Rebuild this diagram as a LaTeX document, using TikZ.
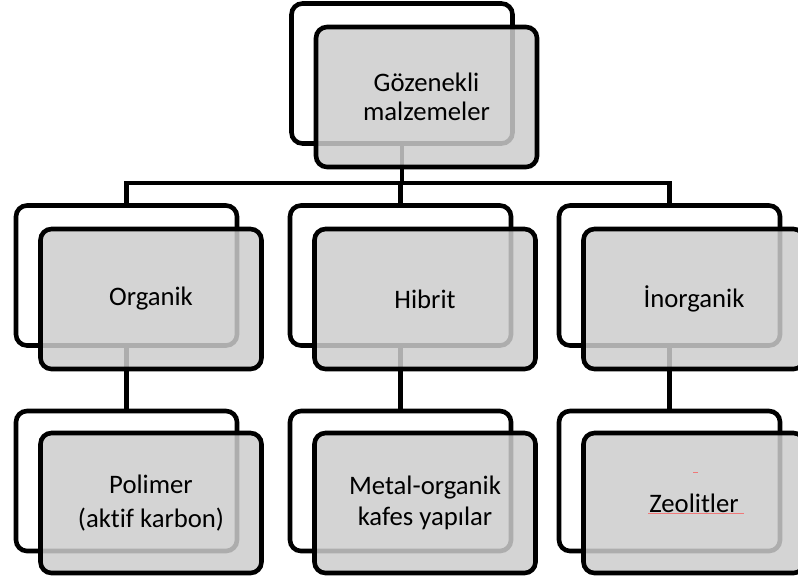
\documentclass[tikz,border=0pt]{standalone}
\usepackage{fontspec}
\setmainfont{Carlito}[Ligatures=NoCommon]
\definecolor{boxgray}{gray}{0.8}
\definecolor{spellred}{RGB}{240,120,120}
\begin{document}
\begin{tikzpicture}[x=1pt,y=-1pt,
  back/.style={draw=black, line width=4.6pt, rounded corners=11pt,
    minimum width=221pt, minimum height=140pt, inner sep=0pt, outer sep=0pt},
  front/.style={back, fill=boxgray, fill opacity=0.85, text opacity=1,
    align=center, font=\fontsize{26.7}{28.5}\selectfont},
  link/.style={line width=4.6pt}]
\useasboundingbox (0,0) rectangle (798,581);
\clip (0,0) rectangle (798,581);
% back boxes
\node[back] (topB) at (402,73.5) {};
\node[back] (orgB) at (126.5,275.5) {};
\node[back] (hibB) at (400.5,275.5) {};
\node[back] (inoB) at (669.5,275.5) {};
\node[back] (polB) at (126.5,481) {};
\node[back] (mofB) at (400.5,481) {};
\node[back] (zeoB) at (669.5,481) {};
% connectors
\coordinate (bus) at (0,183);
\draw[link] (topB.south) -- (topB.south |- bus);
\draw[link] (orgB.north) -- (orgB.north |- bus) -- (inoB.north |- bus) -- (inoB.north);
\draw[link] (hibB.north) -- (hibB.north |- bus);
\draw[link] (orgB.south) -- (polB.north);
\draw[link] (hibB.south) -- (mofB.north);
\draw[link] (inoB.south) -- (zeoB.north);
% front boxes
\node[front] (topF) at (426.5,97) {Gözenekli\\malzemeler};
\node[front] (orgF) at (151,299) {Organik};
\node[front] (hibF) at (425,299) {Hibrit};
\node[front] (inoF) at (694,299) {İnorganik};
\node[front] (polF) at (151,503) {Polimer\\[6pt](aktif karbon)};
\node[front] (mofF) at (425,503) {Metal-organik\\[3pt]kafes yapılar};
\node[front] (zeoF) at (694,503) {Zeolitler};
% spell-check marks
\coordinate (ulA) at (648,513.5);
\coordinate (ulB) at (744,513.5);
\draw[spellred, line width=0.8pt] (ulA) -- (ulB);
\coordinate (dA) at (693,472);
\coordinate (dB) at (698,472);
\draw[spellred, line width=0.8pt] (dA) -- (dB);
\end{tikzpicture}
\end{document}
